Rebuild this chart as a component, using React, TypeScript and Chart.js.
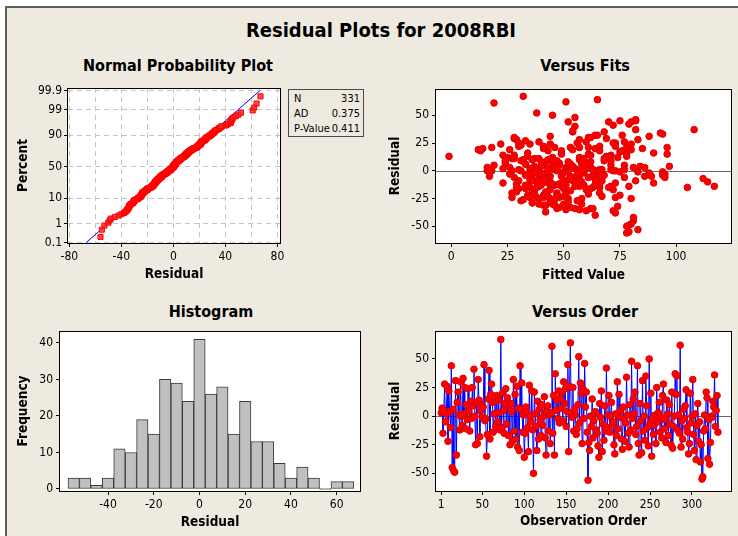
import React, { useEffect, useRef } from "react";
import { Chart, registerables } from "chart.js";

Chart.register(...registerables);

const FONT = "'DejaVu Sans Condensed', 'Liberation Sans', sans-serif";
const BG = "#EEEAE0";

// Residuals in observation order (1..331)
const residuals: number[] = [
  3, 7, -15, 5, 28, -5, 2, 26, -22, 22,
  4, -10, 44, -45, 6, -48, -49, 31, -34, 12,
  21, 1, -12, 30, 0, -8, 33, 2, 25, -11,
  10, -3, 24, 4, -13, 13, -2, 25, 9, 41,
  0, -25, 12, -24, 32, 14, -18, 5, 10, -1,
  8, 45, -4, -2, -35, -16, 15, 40, -20, 19,
  28, 12, -14, 2, 13, -9, 18, -5, 14, 3,
  -12, 67, -10, 20, 5, -15, 11, 24, -7, 16,
  -17, 9, -25, 11, 4, -22, 32, -13, 19, -20,
  26, -27, 7, -30, 44, 6, 29, -14, 1, -36,
  -15, 8, 3, -10, -31, 27, 0, -5, 22, -12,
  -50, 21, 2, -9, -30, 13, -20, 6, -3, -17,
  10, -8, 0, 17, -19, -34, 4, 9, -13, 1,
  -24, 3, 61, -15, 18, -34, 37, 5, 14, -2,
  22, -6, 16, 7, 21, -4, 30, 11, 24, -9,
  4, 45, -31, 26, 64, 3, -1, 25, -13, 6,
  1, -16, -11, 10, 52, -6, 29, 20, -24, 24,
  -2, 46, 8, 21, -14, -56, -23, -30, 0, -9,
  15, -19, -4, 2, 4, -12, -15, -26, -36, 11,
  -1, 22, -31, -7, -21, 9, -13, 42, -10, 1,
  18, -14, 0, 12, -8, -5, -25, -33, 2, -17,
  30, -11, 19, -1, 5, -20, -29, 8, -3, -22,
  -6, 34, 1, -15, -27, 10, -12, 48, -2, 15,
  2, 21, -16, -9, 44, -24, -34, 11, -4, -32,
  31, -13, 0, -21, 35, 9, -10, -26, 50, -6,
  20, -35, -2, -16, -8, 1, -24, 25, -5, 3,
  12, -14, -1, -19, 18, 28, -11, -3, -23, 14,
  2, -17, 10, -7, -25, 21, -28, -9, 0, 37,
  19, 35, -12, 1, -15, 62, -27, -4, -20, 6,
  -2, 9, 23, -10, -14, -33, -24, 20, -6, 0,
  32, -16, -30, 2, -38, -8, 11, -22, -5, -40,
  -25, -55, -53, -13, 1, -11, 21, 16, -37, -3,
  -42, -23, 0, -1, 13, 8, 36, -9, 5, 18,
  -14,
];

// Fitted values in observation order (1..331)
const fittedValues: number[] = [
  62, 48, 35, 71, 29, 44, 55, 39, 41, 66,
  37, 58, 52, 81, 33, 80, 79, 88, 47, 25,
  18, 46, 29, 61, 16, 52, 94, 38, 73, 43,
  57, 26, 35, 84, 49, 69, 40, 56, 31, 72,
  64, 44, 45, 38, 64, 28, 53, 77, 36, 50,
  42, 82, 33, 59, 51, 30, 61, 55, 47, 12,
  57, 74, 39, 45, 34, 67, 43, 17, 62, 51,
  48, 32, 55, 14, 41, 63, 68, 44, 36, 78,
  37, 59, 52, 27, 97, 34, 65, 46, 80, 42,
  60, 31, 24, 45, 70, 53, 28, 57, 66, 60,
  29, 47, 86, 38, 41, 33, 73, 49, 30, 64,
  78, 61, 23, 43, 50, 78, 27, 58, 39, 72,
  32, 54, 47, 75, 36, 62, 40, 68, 51, 77,
  35, 26, 19, 66, 49, 55, 82, 45, 71, 88,
  73, 41, 34, 60, 53, 63, 62, 37, 80, 30,
  46, 75, 42, 77, 65, 16, 94, 72, 59, 33,
  56, 44, 73, 43, 38, 28, 69, 64, 48, 22,
  50, 82, 62, 46, 79, 78, 50, 39, 31, 54,
  96, 42, 65, 36, 54, 48, 70, 32, 72, 39,
  83, 41, 46, 57, 61, 47, 33, 79, 44, 67,
  76, 49, 27, 57, 35, 89, 58, 53, 60, 44,
  28, 40, 54, 75, 48, 66, 36, 52, 95, 47,
  61, 93, 71, 38, 56, 45, 66, 55, 42, 49,
  35, 78, 33, 82, 80, 41, 63, 59, 68, 74,
  44, 40, 58, 37, 68, 24, 50, 46, 45, 77,
  41, 57, 17, 62, 39, 51, 73, 30, 53, 81,
  70, 55, 43, 29, 66, 83, 90, 34, 67, 23,
  47, 60, 36, 112, 39, 57, 52, 41, 65, 108,
  26, 54, 45, 30, 105, 51, 44, 94, 51, 59,
  37, 71, 31, 114, 117, 48, 27, 85, 95, 18,
  76, 50, 58, 43, 73, 64, 28, 75, 86, 64,
  80, 79, 83, 34, 63, 23, 96, 90, 42, 56,
  81, 43, 72, 52, -1, 40, 54, 36, 19, 13,
  71,
];

// Histogram (bin midpoints, width 5)
const histCenters: number[] = [-55, -50, -45, -40, -35, -30, -25, -20, -15, -10, -5, 0, 5, 10, 15, 20, 25, 30, 35, 40, 45, 50, 55, 60, 65];
const histCounts: number[] = [3, 3, 1, 3, 11, 10, 19, 15, 30, 29, 24, 41, 26, 28, 15, 24, 13, 13, 7, 3, 6, 3, 0, 2, 2];

// Normal probability plot
const nppXTicks: number[] = [-80, -60, -40, -20, 0, 20, 40, 60, 80];
const nppPctTicks: number[] = [0.1, 1, 10, 50, 90, 99, 99.9];
const nppLineX: number[] = [-67, 66.5];
const nppLinePct: number[] = [0.1, 99.9];
const statsLabels: string[] = ["N", "AD", "P-Value"];
const statsValues: string[] = ["331", "0.375", "0.411"];

// Tick labels of other panels
const fitsXTicks: number[] = [0, 25, 50, 75, 100];
const residTicks: number[] = [-50, -25, 0, 25, 50];
const histXTicks: number[] = [-40, -20, 0, 20, 40, 60];
const histYTicks: number[] = [0, 10, 20, 30, 40];
const orderXTicks: number[] = [1, 50, 100, 150, 200, 250, 300];

// inverse standard normal CDF (probability axis transform)
function probit(p: number): number {
  const a = [-3.969683028665376e1, 2.209460984245205e2, -2.759285104469687e2, 1.38357751867269e2, -3.066479806614716e1, 2.506628277459239];
  const b = [-5.447609879822406e1, 1.615858368580409e2, -1.556989798598866e2, 6.680131188771972e1, -1.328068155288572e1];
  const c = [-7.784894002430293e-3, -3.223964580411365e-1, -2.400758277161838, -2.549732539343734, 4.374664141464968, 2.938163982698783];
  const d = [7.784695709041462e-3, 3.224671290700398e-1, 2.445134137142996, 3.754408661907416];
  const pl = 0.02425;
  if (p < pl) {
    const q = Math.sqrt(-2 * Math.log(p));
    return (((((c[0] * q + c[1]) * q + c[2]) * q + c[3]) * q + c[4]) * q + c[5]) / ((((d[0] * q + d[1]) * q + d[2]) * q + d[3]) * q + 1);
  }
  if (p <= 1 - pl) {
    const q = p - 0.5;
    const r = q * q;
    return ((((((a[0] * r + a[1]) * r + a[2]) * r + a[3]) * r + a[4]) * r + a[5]) * q) / (((((b[0] * r + b[1]) * r + b[2]) * r + b[3]) * r + b[4]) * r + 1);
  }
  const q = Math.sqrt(-2 * Math.log(1 - p));
  return -(((((c[0] * q + c[1]) * q + c[2]) * q + c[3]) * q + c[4]) * q + c[5]) / ((((d[0] * q + d[1]) * q + d[2]) * q + d[3]) * q + 1);
}

const tickFont = { family: FONT, size: 12 };
const axisTitleFont = { family: FONT, size: 13.5, weight: "bold" as const };

const framePlugin = {
  id: "panelFrame",
  beforeDraw(chart: any) {
    const { ctx, chartArea: a } = chart;
    ctx.save();
    ctx.fillStyle = "#ffffff";
    ctx.fillRect(a.left, a.top, a.right - a.left, a.bottom - a.top);
    ctx.restore();
  },
  beforeDatasetsDraw(chart: any, _args: any, opts: any) {
    if (!opts || !opts.zeroLine) return;
    const { ctx, chartArea: a } = chart;
    const y = Math.round(chart.scales.y.getPixelForValue(0)) + 0.5;
    ctx.save();
    ctx.strokeStyle = "#6a6a6a";
    ctx.lineWidth = 1;
    ctx.beginPath();
    ctx.moveTo(a.left, y);
    ctx.lineTo(a.right, y);
    ctx.stroke();
    ctx.restore();
  },
  afterDraw(chart: any) {
    const { ctx, chartArea: a } = chart;
    ctx.save();
    ctx.strokeStyle = "#000000";
    ctx.lineWidth = 1;
    ctx.strokeRect(Math.round(a.left) - 0.5, Math.round(a.top) + 0.5, Math.round(a.right - a.left) + 1, Math.round(a.bottom - a.top));
    ctx.restore();
  },
};

type AxisOpts = {
  min: number;
  max: number;
  ticks: number[];
  size: number;
  horizontal: boolean;
  title: string;
  titlePad: number;
  labelPad?: number;
  label?: (v: number, i: number) => string;
  grid?: any;
  border?: any;
};

function axis(o: AxisOpts): any {
  return {
    type: "linear",
    min: o.min,
    max: o.max,
    offset: false,
    afterBuildTicks: (s: any) => {
      s.ticks = o.ticks.map((v) => ({ value: v }));
    },
    afterFit: (s: any) => {
      if (o.horizontal) s.height = o.size;
      else s.width = o.size;
    },
    ticks: {
      font: tickFont,
      color: "#000000",
      padding: o.labelPad ?? 3,
      autoSkip: false,
      maxRotation: 0,
      minRotation: 0,
      callback: (v: any, i: number) => (o.label ? o.label(v, i) : String(v)),
    },
    grid: {
      display: true,
      drawOnChartArea: false,
      drawTicks: true,
      tickLength: 4,
      tickColor: "#000000",
      tickWidth: 1,
      offset: false,
      ...(o.grid || {}),
    },
    border: { display: false, ...(o.border || {}) },
    title: {
      display: true,
      text: o.title,
      color: "#000000",
      font: axisTitleFont,
      padding: o.horizontal ? { top: 0, bottom: o.titlePad } : { top: o.titlePad, bottom: 0 },
    },
  };
}

function baseOptions(padding: any, plugin: any, scales: any): any {
  return {
    responsive: false,
    maintainAspectRatio: false,
    animation: false,
    devicePixelRatio: 1,
    events: [],
    layout: { padding },
    plugins: { legend: { display: false }, tooltip: { enabled: false }, title: { display: false }, panelFrame: plugin },
    scales,
  };
}

const redPoint = {
  pointStyle: "circle",
  pointRadius: 3.3,
  pointBackgroundColor: "#ff0000",
  pointBorderColor: "#e00000",
  pointBorderWidth: 1,
};

function makeNpp(): any {
  const sorted = [...residuals].sort((a, b) => a - b);
  const n = sorted.length;
  const pts = sorted.map((r, i) => ({ x: r, y: probit((i + 1 - 0.3) / (n + 0.4)) }));
  const line = nppLineX.map((x, i) => ({ x, y: probit(nppLinePct[i] / 100) }));
  return {
    type: "scatter",
    data: {
      datasets: [
        { data: pts, pointStyle: "rect", pointRadius: 3.6, backgroundColor: "rgba(255,40,40,0.85)", borderColor: "#ff0000", borderWidth: 1, order: 0 },
        { data: line, showLine: true, borderColor: "#0000ff", borderWidth: 1, pointRadius: 0, order: 1 },
      ],
    },
    options: baseOptions({ left: 0, right: 8, top: 12, bottom: 0 }, { zeroLine: false }, {
      x: axis({
        min: -81, max: 82, ticks: nppXTicks, size: 47, horizontal: true, title: "Residual", titlePad: 7.6,
        label: (v) => (v % 40 === 0 ? String(v) : ""),
        grid: {
          drawOnChartArea: true, color: "#c4c4c4",
          tickColor: (ctx: any) => (ctx.tick && ctx.tick.value % 40 === 0 ? "#000000" : "rgba(0,0,0,0)"),
          tickBorderDash: [],
        },
        border: { dash: [5, 4] },
      }),
      y: axis({
        min: -3.11, max: 3.2, ticks: nppPctTicks.map((p) => probit(p / 100)), size: 60, horizontal: false, title: "Percent", titlePad: 7.6,
        labelPad: 2,
        label: (_v, i) => String(nppPctTicks[i]),
        grid: { drawOnChartArea: true, color: "#c4c4c4", tickBorderDash: [] },
        border: { dash: [5, 4] },
      }),
    }),
    plugins: [framePlugin],
  };
}

function makeFits(): any {
  return {
    type: "scatter",
    data: {
      datasets: [{ data: residuals.map((r, i) => ({ x: fittedValues[i], y: r })), ...redPoint }],
    },
    options: baseOptions({ left: 0, right: 5, top: 13, bottom: 0 }, { zeroLine: true }, {
      x: axis({ min: -6.8, max: 124.4, ticks: fitsXTicks, size: 47, horizontal: true, title: "Fitted Value", titlePad: 6.6 }),
      y: axis({ min: -65, max: 73.6, ticks: residTicks, size: 58, horizontal: false, title: "Residual", titlePad: 9.6 }),
    }),
    plugins: [framePlugin],
  };
}

function makeHist(): any {
  return {
    type: "bar",
    data: {
      datasets: [{
        data: histCenters.map((c, i) => ({ x: c, y: histCounts[i] })),
        backgroundColor: "#c0c0c0",
        borderColor: "#3a3a3a",
        borderWidth: 1,
        borderSkipped: false,
        barPercentage: 1,
        categoryPercentage: 1,
        grouped: false,
        minBarLength: 1,
      }],
    },
    options: baseOptions({ left: 0, right: 8, top: 11, bottom: 0 }, { zeroLine: false }, {
      x: axis({ min: -61, max: 70.2, ticks: histXTicks, size: 45, horizontal: true, title: "Residual", titlePad: 5.6 }),
      y: axis({ min: -0.55, max: 43.25, ticks: histYTicks, size: 52, horizontal: false, title: "Frequency", titlePad: 7.6 }),
    }),
    plugins: [framePlugin],
  };
}

function makeOrder(): any {
  return {
    type: "scatter",
    data: {
      datasets: [{
        data: residuals.map((r, i) => ({ x: i + 1, y: r })),
        showLine: true,
        borderColor: "#0000ff",
        borderWidth: 1,
        ...redPoint,
      }],
    },
    options: baseOptions({ left: 0, right: 4, top: 11, bottom: 0 }, { zeroLine: true }, {
      x: axis({ min: -5.3, max: 346.6, ticks: orderXTicks, size: 45, horizontal: true, title: "Observation Order", titlePad: 6.8 }),
      y: axis({ min: -65.4, max: 74.4, ticks: residTicks, size: 58, horizontal: false, title: "Residual", titlePad: 9.6 }),
    }),
    plugins: [framePlugin],
  };
}

function ChartCanvas(props: { left: number; top: number; width: number; height: number; make: () => any }) {
  const ref = useRef<HTMLCanvasElement | null>(null);
  useEffect(() => {
    if (!ref.current) return;
    const chart = new Chart(ref.current, props.make());
    return () => chart.destroy();
  }, []);
  return (
    <canvas
      ref={ref}
      width={props.width}
      height={props.height}
      style={{ position: "absolute", left: props.left, top: props.top, width: props.width, height: props.height }}
    />
  );
}

function Heading(props: { text: string; cx: number; cy: number; size: number }) {
  const lh = Math.round(props.size * 1.25);
  return (
    <div
      style={{
        position: "absolute",
        left: props.cx - 250,
        width: 500,
        top: props.cy - lh / 2,
        height: lh,
        lineHeight: lh + "px",
        textAlign: "center",
        fontFamily: FONT,
        fontWeight: "bold",
        fontSize: props.size,
        color: "#000000",
        whiteSpace: "nowrap",
      }}
    >
      {props.text}
    </div>
  );
}

function StatsBox() {
  return (
    <div
      style={{
        position: "absolute",
        left: 288,
        top: 89,
        width: 74,
        height: 46,
        border: "1px solid #4a4a4a",
        background: BG,
        fontFamily: FONT,
        fontSize: 11,
        color: "#000000",
      }}
    >
      {statsLabels.map((l, i) => (
        <div key={l} style={{ position: "absolute", left: 5, right: 3, top: 1 + i * 15, height: 15, lineHeight: "15px" }}>
          <span style={{ position: "absolute", left: 0 }}>{l}</span>
          <span style={{ position: "absolute", right: 0 }}>{statsValues[i]}</span>
        </div>
      ))}
    </div>
  );
}

export default function App() {
  return (
    <div style={{ position: "absolute", left: 0, top: 0, width: 738, height: 536, overflow: "hidden", background: "#ffffff" }}>
      <div
        style={{
          position: "absolute",
          left: 5,
          top: 6,
          width: 760,
          height: 560,
          background: BG,
          borderTop: "2px solid #5f5f5f",
          borderLeft: "2px solid #5f5f5f",
        }}
      />
      <Heading text="Residual Plots for 2008RBI" cx={381} cy={30} size={20} />
      <Heading text="Normal Probability Plot" cx={178} cy={66} size={16} />
      <Heading text="Versus Fits" cx={585} cy={66} size={16} />
      <Heading text="Histogram" cx={211} cy={312} size={16} />
      <Heading text="Versus Order" cx={585} cy={312} size={16} />
      <ChartCanvas left={8} top={76} width={280} height={214} make={makeNpp} />
      <ChartCanvas left={378} top={76} width={358} height={214} make={makeFits} />
      <ChartCanvas left={8} top={320} width={360} height={216} make={makeHist} />
      <ChartCanvas left={378} top={320} width={358} height={216} make={makeOrder} />
      <StatsBox />
    </div>
  );
}
